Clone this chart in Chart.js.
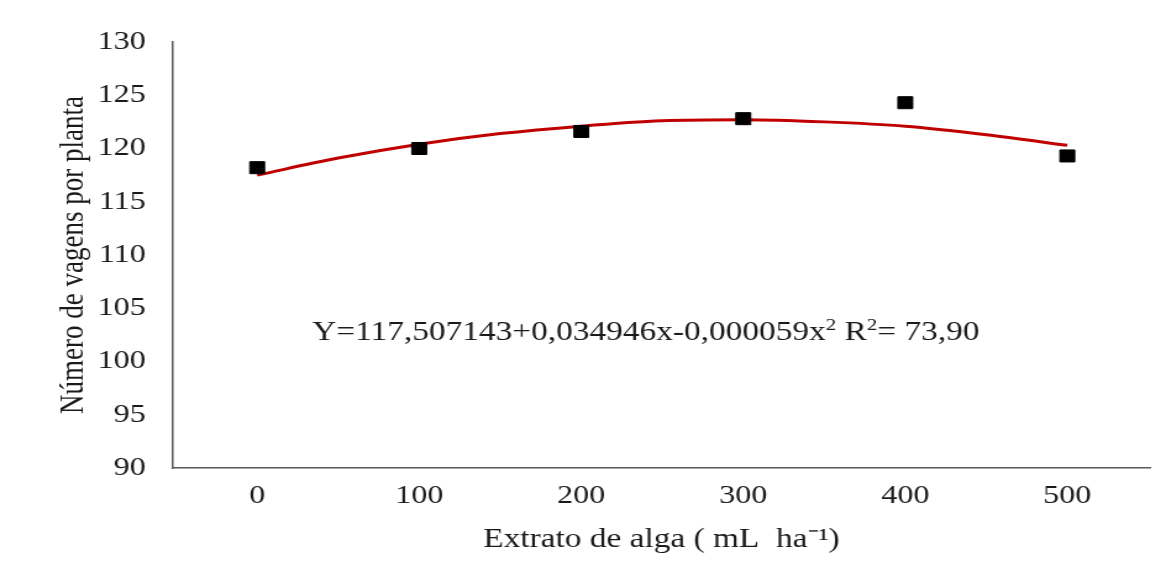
<!DOCTYPE html>
<html>
<head>
<meta charset="utf-8">
<script src="https://cdn.jsdelivr.net/npm/chart.js@4/dist/chart.umd.min.js"></script>
<style>
  html, body { margin: 0; padding: 0; background: #fff; }
  #chart { display: block; width: 1166px; height: 583px; }
</style>
</head>
<body>
<canvas id="chart" width="944" height="583" style="width:1166px;height:583px"></canvas>
<script>
// doses of seaweed extract (mL/ha)
const doses = [0, 100, 200, 300, 400, 500];
const observed = [118.2, 120.0, 121.6, 122.8, 124.3, 119.3];

// fitted curve
const curveX = [0, 50, 100, 150, 200, 250, 300, 350, 400, 450, 500];
const curveY = [117.5, 119.1, 120.4, 121.4, 122.1, 122.6, 122.7, 122.5, 122.1, 121.3, 120.3];

const yTicks = [90, 95, 100, 105, 110, 115, 120, 125, 130];

const serif = "'Liberation Serif', 'Times New Roman', serif";
const axisColor = "#595959";

// equation drawn inside the plot, with superscripts
const equationText = {
  id: "equationText",
  afterDatasetsDraw(chart) {
    const { ctx, scales } = chart;
    let x = scales.x.getPixelForValue(34);
    const y = scales.y.getPixelForValue(102.7);
    const parts = [
      ["Y=117,507143+0,034946x-0,000059x", false],
      ["2", true],
      [" R", false],
      ["2", true],
      ["= 73,90", false]
    ];
    ctx.save();
    ctx.fillStyle = "#1a1a1a";
    ctx.textBaseline = "middle";
    ctx.textAlign = "left";
    for (const [t, sup] of parts) {
      ctx.font = (sup ? "17px " : "27px ") + serif;
      ctx.fillText(t, x, sup ? y - 7 : y);
      x += ctx.measureText(t).width;
    }
    ctx.restore();
  }
};

new Chart(document.getElementById("chart"), {
  type: "scatter",
  data: {
    datasets: [
      {
        label: "ajuste",
        data: curveX.map((x, i) => ({ x, y: curveY[i] })),
        showLine: true,
        borderColor: "#c00000",
        borderWidth: 3,
        pointRadius: 0,
        tension: 0.4,
        cubicInterpolationMode: "monotone",
        order: 2
      },
      {
        label: "observado",
        data: doses.map((x, i) => ({ x, y: observed[i] })),
        pointStyle: "rect",
        pointRadius: 8.5,
        backgroundColor: "#000",
        borderColor: "#000",
        borderWidth: 1,
        order: 1
      }
    ]
  },
  plugins: [equationText],
  options: {
    responsive: false,
    devicePixelRatio: 1,
    animation: false,
    layout: { padding: { left: 0, right: 13, top: 42, bottom: 0 } },
    plugins: {
      legend: { display: false },
      tooltip: { enabled: false }
    },
    scales: {
      x: {
        type: "linear",
        min: -52,
        max: 551,
        afterBuildTicks: (s) => { s.ticks = doses.map(v => ({ value: v })); },
        afterFit: (s) => { s.height = 115; },
        grid: { display: false, drawTicks: false },
        border: { color: axisColor, width: 1.5 },
        ticks: { color: "#1a1a1a", padding: 13, font: { family: serif, size: 26 } },
        title: {
          display: true,
          text: "Extrato de alga ( mL  ha\u207B\u00B9)",
          color: "#1a1a1a",
          padding: { top: 0, bottom: 27 },
          font: { family: serif, size: 27 }
        }
      },
      y: {
        min: 90,
        max: 130,
        afterBuildTicks: (s) => { s.ticks = yTicks.map(v => ({ value: v })); },
        afterFit: (s) => { s.width = 140; },
        grid: { display: false, drawTicks: false },
        border: { color: axisColor, width: 1.5 },
        ticks: { color: "#1a1a1a", padding: 22, font: { family: serif, size: 26 } },
        title: {
          display: true,
          text: "Número de vagens por planta",
          color: "#1a1a1a",
          padding: { top: 44, bottom: 0 },
          font: { family: serif, size: 27 }
        }
      }
    }
  }
});
</script>
</body>
</html>
